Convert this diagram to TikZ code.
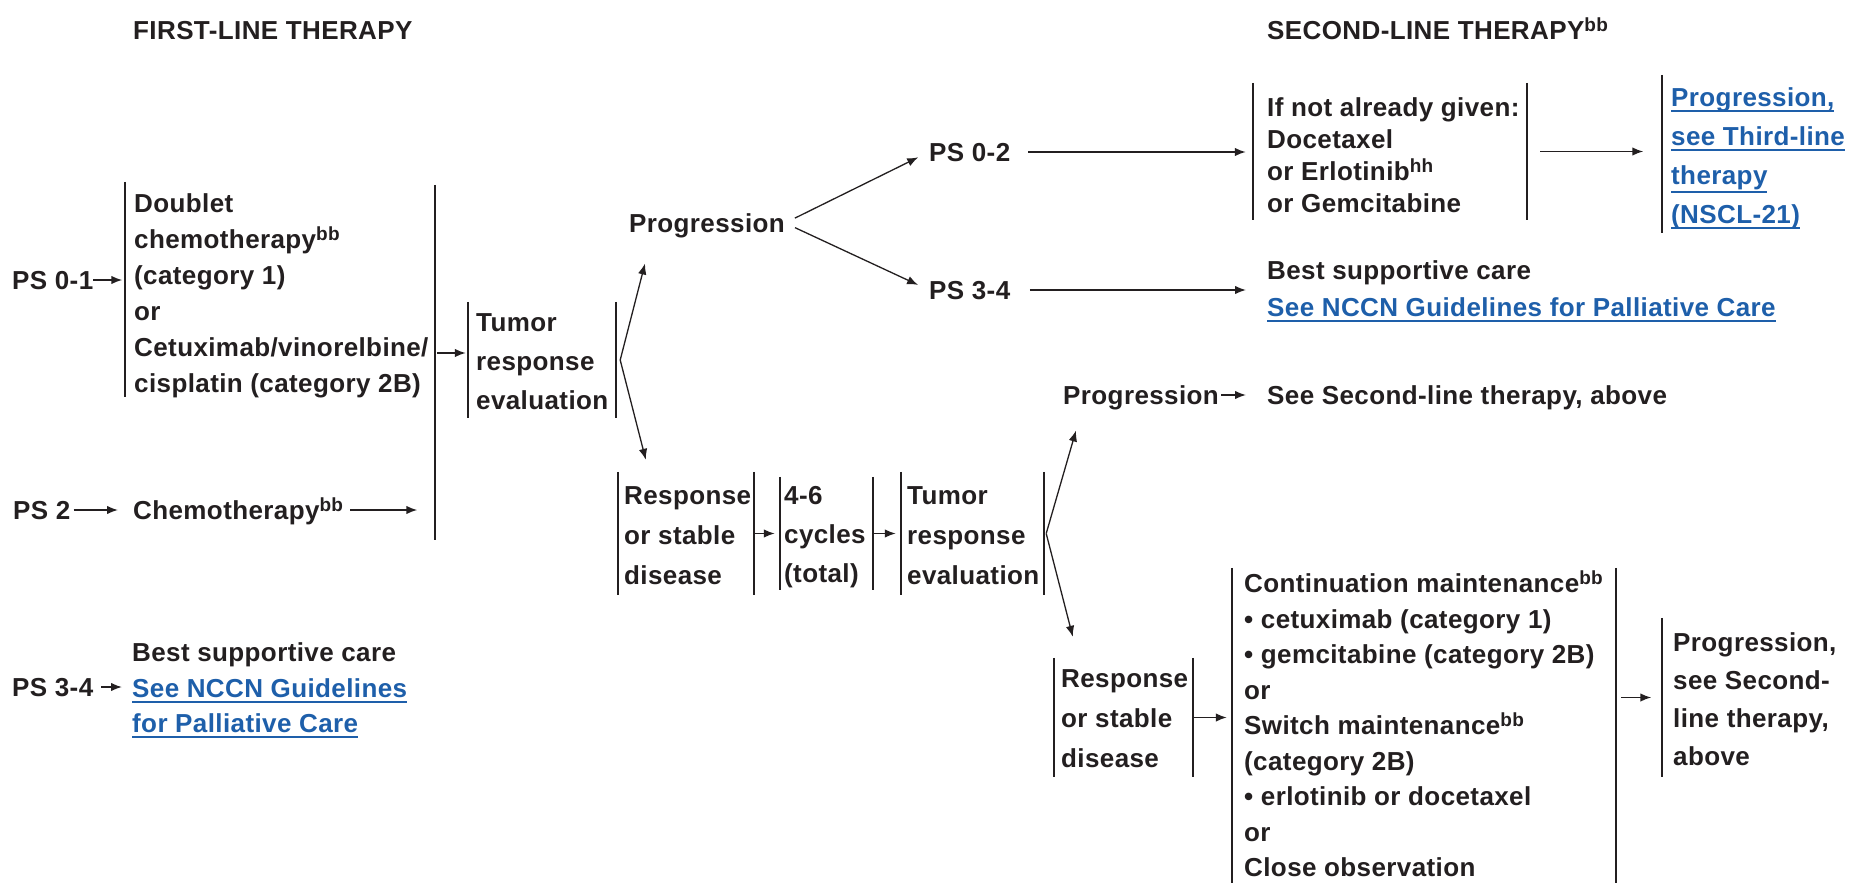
\documentclass[tikz,border=0pt]{standalone}
\usepackage{fontspec}
\setmainfont{Liberation Sans}[LetterSpace=1.5]
\usetikzlibrary{arrows.meta,fit}
\definecolor{ink}{RGB}{35,31,32}
\definecolor{linkblue}{RGB}{30,95,170}
\newcommand\supsc[1]{\raisebox{8pt}{\fontsize{19}{19}\selectfont #1}}
\newcommand\fl{\rule{0pt}{23pt}}
\newcommand\mylink[2][5.5pt]{{\color{linkblue}\setbox0\hbox{#2}\rlap{\rule[-#1]{\wd0}{1.6pt}}\box0}}
\begin{document}
\begin{tikzpicture}[x=1pt,y=-1pt,
  lbl/.style={inner sep=0pt, anchor=west, text height=18.6pt, text depth=0pt,
    font=\fontsize{26}{30}\selectfont\bfseries, text=ink},
  txt/.style={inner sep=0pt, anchor=north west, align=left, text=ink,
    font=\fontsize{26}{#1}\selectfont\bfseries},
  txt/.default=36,
  barln/.style={draw=ink, line width=1.8pt, -},
  lbar/.style={inner sep=0pt, append after command={(\tikzlastnode.north west) edge[barln] (\tikzlastnode.south west)}},
  rbar/.style={append after command={(\tikzlastnode.north east) edge[barln] (\tikzlastnode.south east)}},
  arr/.style={draw=ink, line width=1.6pt, -{Latex[length=11pt,width=8.5pt]}},
  darr/.style={arr, line width=1.3pt},
]
\fill[white] (0,0) rectangle (1853,883);
\useasboundingbox (0,0) rectangle (1853,883);

% titles
\node[lbl] (t1) at (133,30) {FIRST-LINE THERAPY};
\node[lbl] (t2) at (1267,30) {SECOND-LINE THERAPY\supsc{bb}};

% first-line column
\node[lbl] (ps01) at (12,280) {PS 0-1};
\node[lbar, fit={(126,182) (126,397)}] (dblbox) {};
\node[txt=36] (dbl) at (134,189.3) {\fl Doublet\\chemotherapy\supsc{bb}\\(category 1)\\or\\Cetuximab/vinorelbine/\\cisplatin (category 2B)};
\node[lbar, fit={(436,185) (436,540)}] (coll) {};

\node[lbl] (ps2) at (13,510) {PS 2};
\node[lbl] (chemo) at (133,510) {Chemotherapy\supsc{bb}};

\node[lbl] (ps34) at (12,687) {PS 3-4};
\node[txt=35.5] (bsc1) at (132,638.3) {\fl Best supportive care\\\mylink{See NCCN Guidelines}\\\mylink{for Palliative Care}};

% tumor response evaluation 1
\node[lbar, rbar, fit={(468,302) (616,418)}] (tre1box) {};
\node[txt=39] (tre1) at (476,308.3) {\fl Tumor\\response\\evaluation};

% progression branch
\node[lbl] (prog1) at (629,223) {Progression};
\node[lbl] (ps02) at (929,152) {PS 0-2};
\node[lbl] (ps34b) at (929,290) {PS 3-4};

\node[lbar, rbar, fit={(1253,83) (1527,220)}] (ifnotbox) {};
\node[txt=32] (ifnot) at (1267,93.3) {\fl If not already given:\\Docetaxel\\or Erlotinib\supsc{hh}\\or Gemcitabine};
\node[lbar, fit={(1663,75) (1663,233)}] (p3box) {};
\node[txt=39] (p3) at (1671,83.3) {\fl\mylink{Progression,}\\\mylink{see Third-line}\\\mylink[8pt]{therapy}\\\mylink{(NSCL-21)}};

\node[txt=37] (bsc2) at (1267,256.3) {\fl Best supportive care\\\mylink{See NCCN Guidelines for Palliative Care}};

% response row
\node[lbar, rbar, fit={(618,472) (754,595)}] (rsd1box) {};
\node[txt=40] (rsd1) at (624,481.3) {\fl Response\\or stable\\disease};
\node[lbar, rbar, fit={(780,477) (873,590)}] (cycbox) {};
\node[txt=39] (cyc) at (784,481.3) {\fl 4-6\\cycles\\(total)};
\node[lbar, rbar, fit={(901,472) (1044,595)}] (tre2box) {};
\node[txt=40] (tre2) at (907,481.3) {\fl Tumor\\response\\evaluation};

\node[lbl] (prog2) at (1063,395) {Progression};
\node[lbl] (ssl) at (1267,395) {See Second-line therapy, above};

\node[lbar, rbar, fit={(1054,658) (1193,777)}] (rsd2box) {};
\node[txt=40] (rsd2) at (1061,664.3) {\fl Response\\or stable\\disease};

\node[lbar, rbar, fit={(1232,568) (1616,883)}] (maintbox) {};
\node[txt=35.5] (maint) at (1244,569.3) {\fl Continuation maintenance\supsc{bb}\\%
\textbullet{} cetuximab (category 1)\\\textbullet{} gemcitabine (category 2B)\\or\\%
Switch maintenance\supsc{bb}\\(category 2B)\\\textbullet{} erlotinib or docetaxel\\or\\Close observation};

\node[lbar, fit={(1663,618) (1663,777)}] (p2box) {};
\node[txt=38] (p2) at (1673,628.3) {\fl Progression,\\see Second-\\line therapy,\\above};

% connectors
\draw[arr, shorten >=3pt] (ps01.east) -- (ps01.east -| dblbox.west);
\draw[arr, shorten <=3pt, shorten >=15pt] (ps2.east) -- (chemo.west);
\draw[arr, shorten <=7pt, shorten >=18pt] (chemo.east) -- (chemo.east -| coll.west);
\draw[arr, shorten <=8pt, shorten >=10pt] (ps34.east) -- (ps34.east -| bsc1.west);
\draw[arr, shorten <=2pt, shorten >=2pt] ([yshift=7pt]tre1box.west -| coll.west) -- ([yshift=7pt]tre1box.west);

\coordinate (v1) at ([xshift=4pt]tre1box.east);
\draw[darr] (v1) -- ([xshift=16pt,yshift=-31pt]prog1.south west);
\draw[darr] (v1) -- ([xshift=28pt,yshift=12pt]rsd1box.north west);

\draw[darr, shorten <=11pt, shorten >=12pt] (prog1.east) -- (ps02.west);
\draw[darr, shorten <=11pt, shorten >=12pt] (prog1.east) -- (ps34b.west);

\draw[arr, shorten <=18pt, shorten >=7pt] (ps02.east) -- (ps02.east -| ifnotbox.west);
\draw[arr, shorten <=13pt, shorten >=19pt] (ifnotbox.east) -- (ifnotbox.east -| p3box.west);
\draw[arr, shorten <=19.5pt, shorten >=21pt] (ps34b.east) -- (ps34b.east -| bsc2.west);

\draw[arr, shorten <=1pt, shorten >=5pt] (rsd1box.east) -- (cycbox.west);
\draw[arr, shorten <=1pt, shorten >=5pt] (cycbox.east) -- (tre2box.west);

\coordinate (v2) at ([xshift=2pt]tre2box.east);
\draw[darr] (v2) -- ([xshift=13pt,yshift=-26pt]prog2.south west);
\draw[darr] (v2) -- ([xshift=19pt,yshift=21pt]rsd2box.north west);
\draw[arr, shorten <=2pt, shorten >=21pt] (prog2.east) -- (ssl.west);

\draw[arr, shorten <=1pt, shorten >=5pt] (rsd2box.east) -- (rsd2box.east -| maintbox.west);
\draw[arr, shorten <=5pt, shorten >=11pt] (maintbox.east |- p2box.west) -- (p2box.west);
\end{tikzpicture}
\end{document}
